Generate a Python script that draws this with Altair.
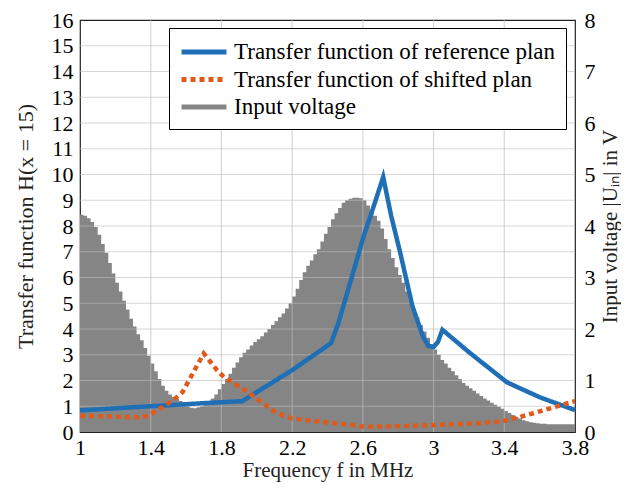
import altair as alt
import pandas as pd

FONT = "Liberation Serif"

# Input voltage spectrum (V), bins of 0.02 MHz starting at 1.00 MHz
input_voltage = [
    4.22, 4.20, 4.15, 4.08, 3.98, 3.83, 3.65, 3.48, 3.28, 3.08,
    2.90, 2.73, 2.55, 2.38, 2.20, 2.05, 1.90, 1.78, 1.63, 1.48,
    1.33, 1.18, 1.03, 0.90, 0.80, 0.73, 0.68, 0.64, 0.60, 0.55,
    0.50, 0.47, 0.46, 0.48, 0.50, 0.54, 0.59, 0.65, 0.73, 0.83,
    0.93, 1.03, 1.13, 1.25, 1.35, 1.45, 1.54, 1.60, 1.68, 1.75,
    1.80, 1.86, 1.93, 2.00, 2.08, 2.15, 2.23, 2.30, 2.40, 2.50,
    2.63, 2.78, 2.95, 3.10, 3.23, 3.33, 3.45, 3.55, 3.70, 3.85,
    3.98, 4.13, 4.25, 4.35, 4.45, 4.50, 4.53, 4.55, 4.55, 4.54,
    4.50, 4.40, 4.30, 4.20, 4.10, 3.95, 3.75, 3.55, 3.38, 3.20,
    3.05, 2.90, 2.73, 2.55, 2.38, 2.23, 2.08, 1.95, 1.83, 1.70,
    1.60, 1.50, 1.40, 1.33, 1.25, 1.18, 1.10, 1.03, 0.95, 0.90,
    0.85, 0.80, 0.75, 0.70, 0.65, 0.61, 0.57, 0.53, 0.49, 0.45,
    0.41, 0.37, 0.33, 0.29, 0.26, 0.23, 0.21, 0.19, 0.18, 0.17,
    0.16, 0.16, 0.15, 0.15, 0.15, 0.15, 0.15, 0.15, 0.15, 0.15,
    0.15,
]
bin_start = 1.0
bin_step = 0.02
input_freq = [round(bin_start + bin_step * i, 2) for i in range(len(input_voltage))]

# Transfer function of reference plan
ref_freq = [1.0, 1.4, 1.7, 1.92, 2.0, 2.2, 2.42, 2.46, 2.52, 2.6, 2.67, 2.715,
            2.76, 2.81, 2.88, 2.94, 2.97, 3.0, 3.025, 3.05, 3.2, 3.415, 3.6, 3.8]
ref_h = [0.84, 1.0, 1.12, 1.2, 1.55, 2.4, 3.45, 4.2, 5.6, 7.5, 8.95, 9.9,
         8.4, 7.0, 4.9, 3.7, 3.35, 3.3, 3.5, 3.97, 3.1, 1.93, 1.35, 0.85]

# Transfer function of shifted plan
sh_freq = [1.0, 1.2, 1.32, 1.38, 1.44, 1.53, 1.58, 1.64, 1.70, 1.775, 1.82, 1.92,
           2.02, 2.11, 2.2, 2.36, 2.5, 2.62, 2.81, 3.0, 3.19, 3.375, 3.47, 3.56, 3.8]
sh_h = [0.63, 0.6, 0.57, 0.62, 0.85, 1.25, 1.55, 2.3, 3.05, 2.4, 2.1, 1.68,
        1.2, 0.75, 0.52, 0.4, 0.3, 0.2, 0.23, 0.27, 0.32, 0.4, 0.55, 0.72, 1.2]

x_ticks = [1, 1.4, 1.8, 2.2, 2.6, 3, 3.4, 3.8]
x_grid = [1.4, 1.8, 2.2, 2.6, 3, 3.4]
y_ticks = list(range(0, 17))
y_grid = list(range(1, 16))
y2_ticks = list(range(0, 9))

series_names = ["Transfer function of reference plan",
                "Transfer function of shifted plan",
                "Input voltage"]
series_colors = ["#1f6fb6", "#e05a1b", "#858585"]
series_dash = [[1, 0], [5, 4], [1, 0]]

df_in = pd.DataFrame({"f": input_freq, "v": input_voltage})
df_lines = pd.concat([
    pd.DataFrame({"f": ref_freq, "h": ref_h, "series": series_names[0], "order": range(len(ref_freq))}),
    pd.DataFrame({"f": sh_freq, "h": sh_h, "series": series_names[1], "order": range(len(sh_freq))}),
])
df_xgrid = pd.DataFrame({"f": x_grid})
df_ygrid = pd.DataFrame({"h": y_grid})

x_scale = alt.Scale(domain=[1, 3.8], nice=False, zero=False)
y_scale = alt.Scale(domain=[0, 16], nice=False)
y2_scale = alt.Scale(domain=[0, 8], nice=False)

x_axis = alt.Axis(values=x_ticks, format="~g", title="Frequency f in MHz",
                  grid=False, ticks=False, domain=False, labelPadding=5,
                  labelFlush=False, titlePadding=1, titleFontSize=21)
y_axis = alt.Axis(orient="left", values=y_ticks, title="Transfer function H(x = 15)",
                  grid=False, ticks=False, domain=False, labelPadding=7,
                  labelFlush=False, titlePadding=14)
y2_axis = alt.Axis(orient="right", values=y2_ticks, title="Input voltage |Uᵢₙ| in V",
                   grid=False, ticks=False, domain=False, labelPadding=9,
                   labelFlush=False, titleAngle=270, titleX=35, titleY=206,
                   titleAlign="center", titleBaseline="middle", titleFontSize=21)

area = alt.Chart(df_in).mark_area(color="#858585", interpolate="step-after").encode(
    x=alt.X("f:Q", scale=x_scale, axis=x_axis),
    y=alt.Y("v:Q", scale=y2_scale, axis=y2_axis),
)

xgrid = alt.Chart(df_xgrid).mark_rule(color="#bdbdbd", strokeWidth=1.2, opacity=0.6).encode(
    x=alt.X("f:Q", scale=x_scale, axis=x_axis)
)
ygrid = alt.Chart(df_ygrid).mark_rule(color="#bdbdbd", strokeWidth=1.2, opacity=0.6).encode(
    y=alt.Y("h:Q", scale=y_scale, axis=y_axis)
)

legend = alt.Legend(
    title=None, orient="none", legendX=89, legendY=8,
    direction="vertical",
    symbolType="M-2,0H2", symbolSize=506, symbolStrokeWidth=5, symbolOffset=11,
    labelFont=FONT, labelFontSize=23, labelColor="black", labelLimit=500,
    labelOffset=16, rowPadding=1.5, padding=10,
    strokeColor="black", fillColor="white", cornerRadius=0,
)

lines = alt.Chart(df_lines).mark_line(strokeWidth=4.5, strokeJoin="miter").encode(
    x=alt.X("f:Q", scale=x_scale, axis=x_axis),
    y=alt.Y("h:Q", scale=y_scale, axis=y_axis),
    color=alt.Color("series:N", scale=alt.Scale(domain=series_names, range=series_colors), legend=legend),
    strokeDash=alt.StrokeDash("series:N", scale=alt.Scale(domain=series_names, range=series_dash), legend=legend),
    order="order:Q",
)

left = alt.layer(xgrid, ygrid, lines)

chart = alt.layer(area, left).resolve_scale(y="independent").properties(
    width=495, height=412,
    autosize=alt.AutoSizeParams(type="none"),
    padding={"left": 72, "top": 12, "right": 46, "bottom": 50},
).configure_view(
    stroke="#222222", strokeWidth=1.2
).configure_axis(
    labelFont=FONT, labelFontSize=22, labelColor="black",
    titleFont=FONT, titleFontSize=22, titleFontWeight="normal", titleColor="#222222",
)

chart.save("out.html", embed_options={"renderer": "svg", "actions": False})
